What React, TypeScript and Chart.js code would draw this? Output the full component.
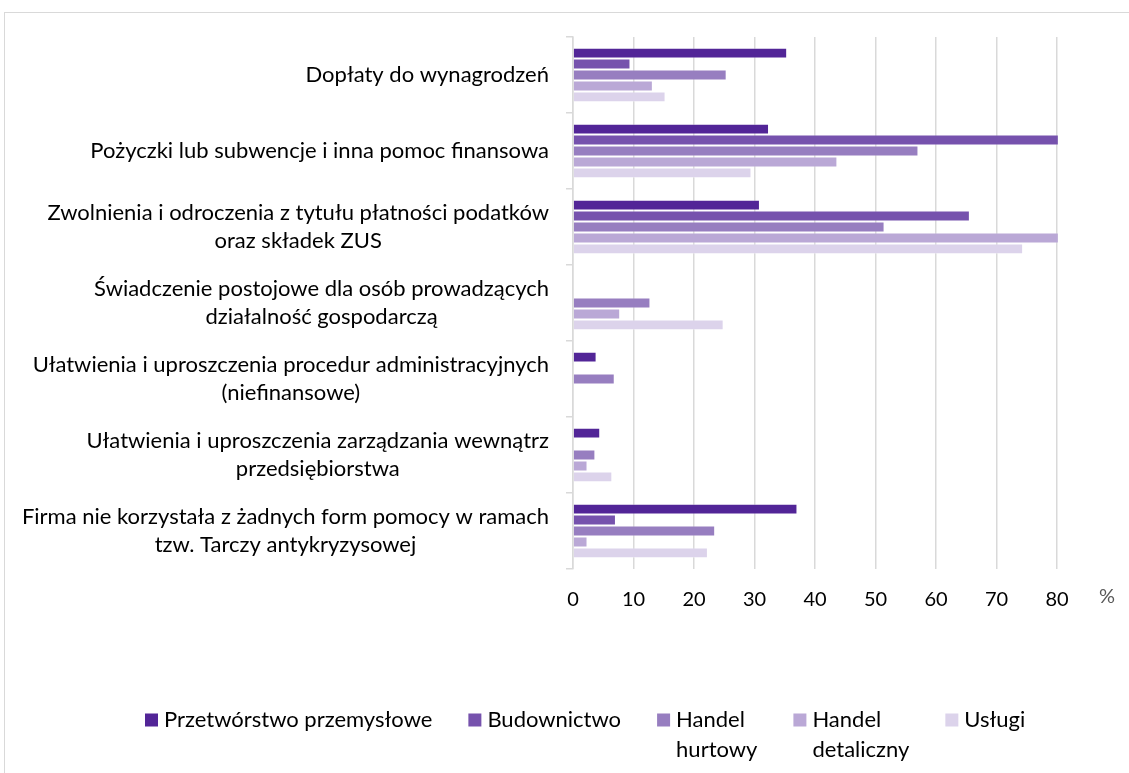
import React, { useEffect, useRef } from "react";
import { Chart, registerables } from "chart.js";

Chart.register(...registerables);

// ---- data ----
const categories: string[][] = [
  ["Dopłaty do wynagrodzeń"],
  ["Pożyczki lub subwencje i inna pomoc finansowa"],
  ["Zwolnienia i odroczenia z tytułu płatności podatków", "oraz składek ZUS"],
  ["Świadczenie postojowe dla osób prowadzących", "działalność gospodarczą"],
  ["Ułatwienia i uproszczenia procedur administracyjnych", "(niefinansowe)"],
  ["Ułatwienia i uproszczenia zarządzania wewnątrz", "przedsiębiorstwa"],
  ["Firma nie korzystała z żadnych form pomocy w ramach", "tzw. Tarczy antykryzysowej"],
];

const seriesNames: string[][] = [
  ["Przetwórstwo przemysłowe"],
  ["Budownictwo"],
  ["Handel", "hurtowy"],
  ["Handel", "detaliczny"],
  ["Usługi"],
];

const przetworstwo: (number | null)[] = [35.4, 32.4, 30.9, null, 3.9, 4.5, 37.1];
const budownictwo: (number | null)[] = [9.5, 80.3, 65.6, null, null, null, 7.1];
const handelHurtowy: (number | null)[] = [25.4, 57.1, 51.5, 12.8, 6.9, 3.7, 23.5];
const handelDetaliczny: (number | null)[] = [13.2, 43.7, 80.3, 7.8, null, 2.4, 2.4];
const uslugi: (number | null)[] = [15.3, 29.5, 74.4, 24.9, null, 6.5, 22.3];

const xTickValues = [0, 10, 20, 30, 40, 50, 60, 70, 80];
const unitLabel = "%";

const seriesColors = ["#522597", "#7652AD", "#977EC0", "#BAA8D6", "#DCD3EB"];

const FONT = 'Lato, "Open Sans", sans-serif';

// y-axis category labels: block right-aligned, lines centred within the block
const yLabelPlugin = {
  id: "yLabelsCentered",
  afterDraw(chart: any) {
    const { ctx } = chart;
    const ys = chart.scales.y;
    const xs = chart.scales.x;
    ctx.save();
    ctx.font = `22px ${FONT}`;
    ctx.fillStyle = "#000";
    ctx.textAlign = "center";
    ctx.textBaseline = "middle";
    const right = ys.right - 7 - 17;
    const lh = 28.5;
    categories.forEach((lines, i) => {
      const cy = ys.getPixelForValue(i);
      const w = Math.max(...lines.map((l) => ctx.measureText(l).width));
      lines.forEach((l, j) => {
        ctx.fillText(l, right - w / 2, cy + (j - (lines.length - 1) / 2) * lh);
      });
    });
    ctx.font = `20px ${FONT}`;
    ctx.fillStyle = "#595959";
    ctx.textAlign = "left";
    ctx.fillText(unitLabel, xs.right + 42, xs.top + 28);
    ctx.restore();
  },
};

// legend with wrapped (multi-line) entries
const legendPlugin = {
  id: "wrappedLegend",
  afterDraw(chart: any) {
    const { ctx } = chart;
    ctx.save();
    ctx.font = `22px ${FONT}`;
    ctx.textAlign = "left";
    ctx.textBaseline = "middle";
    const box = 13;
    const gapBoxText = 6;
    const gapItems = 36;
    const y0 = 720;
    const lh = 30;
    let x = 145;
    chart.data.datasets.forEach((ds: any, i: number) => {
      const lines = seriesNames[i];
      const tw = Math.max(...lines.map((l) => ctx.measureText(l).width));
      ctx.fillStyle = ds.backgroundColor;
      ctx.fillRect(x, y0 - box / 2, box, box);
      ctx.fillStyle = "#000";
      lines.forEach((l, j) => ctx.fillText(l, x + box + gapBoxText, y0 + j * lh));
      x += box + gapBoxText + tw + gapItems;
    });
    ctx.restore();
  },
};

export default function App() {
  const ref = useRef<HTMLCanvasElement | null>(null);

  useEffect(() => {
    if (!ref.current) return;
    const values = [przetworstwo, budownictwo, handelHurtowy, handelDetaliczny, uslugi];
    const chart = new Chart(ref.current, {
      type: "bar",
      data: {
        labels: categories.map((c) => c.join(" ")),
        datasets: values.map((v, i) => ({
          label: seriesNames[i].join(" "),
          data: v,
          backgroundColor: seriesColors[i],
          borderColor: "rgba(255,255,255,0.35)",
          borderWidth: 1,
          barPercentage: 1,
          categoryPercentage: 0.72,
          clip: false as any,
        })),
      },
      options: {
        indexAxis: "y",
        responsive: false,
        animation: false,
        layout: { padding: { left: 0, right: 72, top: 37, bottom: 0 } },
        scales: {
          x: {
            min: 0,
            max: 80,
            afterBuildTicks: (s: any) => {
              s.ticks = xTickValues.map((v) => ({ value: v }));
            },
            ticks: {
              font: { family: FONT, size: 20 },
              color: "#000",
              padding: 19,
            },
            grid: { color: "#d9d9d9", lineWidth: 1.5, drawTicks: false },
            border: { display: false },
            afterFit: (s: any) => {
              s.height = 204;
            },
          },
          y: {
            ticks: { display: false },
            grid: {
              offset: true,
              drawOnChartArea: false,
              drawTicks: true,
              tickLength: 7,
              color: "#d9d9d9",
              lineWidth: 1.5,
            },
            border: { display: true, color: "#d9d9d9", width: 1.5 },
            afterFit: (s: any) => {
              s.width = 573;
            },
          },
        },
        plugins: {
          tooltip: { enabled: false },
          legend: { display: false },
        },
      },
      plugins: [yLabelPlugin, legendPlugin],
    } as any);
    return () => chart.destroy();
  }, []);

  return (
    <div
      style={{
        position: "fixed",
        left: 0,
        top: 0,
        width: 1129,
        height: 773,
        overflow: "hidden",
        background: "#fff",
      }}
    >
      <div
        style={{
          position: "absolute",
          left: 4,
          top: 12,
          width: 1300,
          height: 900,
          border: "1px solid #d9d9d9",
        }}
      />
      <canvas
        ref={ref}
        width={1129}
        height={773}
        style={{ position: "absolute", left: 0, top: 0 }}
      />
    </div>
  );
}
